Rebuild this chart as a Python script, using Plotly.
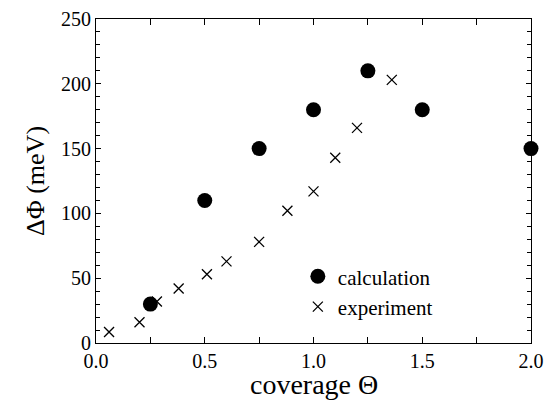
import plotly.graph_objects as go

calc_theta = [0.25, 0.5, 0.75, 1.0, 1.25, 1.5, 2.0]
calc_dphi = [30, 110, 150, 180, 210, 180, 150]

exp_theta = [0.06, 0.20, 0.28, 0.38, 0.51, 0.60, 0.75, 0.88, 1.00, 1.10, 1.20, 1.36]
exp_dphi = [8.5, 16, 32, 42, 53, 63, 78, 102, 117, 143, 166, 203]

FONT = "Liberation Serif"

fig = go.Figure()
fig.add_trace(go.Scatter(
    x=calc_theta, y=calc_dphi, mode="markers", name="calculation",
    marker=dict(symbol="circle", size=15, color="black"),
    cliponaxis=False,
))
fig.add_trace(go.Scatter(
    x=exp_theta, y=exp_dphi, mode="markers", name="experiment",
    marker=dict(symbol="x-thin", size=10, color="black",
                line=dict(width=1.3, color="black")),
    cliponaxis=False,
))

fig.update_layout(
    width=545, height=401,
    margin=dict(l=96, r=14, t=19, b=58),
    paper_bgcolor="white", plot_bgcolor="white",
    font=dict(family=FONT, color="black", size=20),
    showlegend=True,
    legend=dict(x=0.464, y=0.268, xanchor="left", yanchor="top",
                bgcolor="rgba(0,0,0,0)", font=dict(size=21, family=FONT, color="black"),
                itemwidth=30, tracegroupgap=0),
    annotations=[dict(
        text="coverage Θ", xref="paper", yref="paper", x=0.5, y=0,
        xanchor="center", yanchor="top", yshift=-24, showarrow=False,
        font=dict(size=28, family=FONT, color="black"),
    )],
)
fig.update_xaxes(
    range=[0, 2.0], dtick=0.5, tick0=0, tickformat=".1f",
    ticks="inside", ticklen=6, tickcolor="black", tickwidth=1,
    minor=dict(dtick=0.25, ticks="inside", ticklen=6, tickcolor="black"),
    showline=True, linecolor="black", linewidth=1, mirror="ticks",
    showgrid=False, zeroline=False, automargin=False,
    tickfont=dict(size=20, family=FONT, color="black"),
)
fig.update_yaxes(
    range=[0, 250], dtick=50, tick0=0,
    ticks="inside", ticklen=5, tickcolor="black", tickwidth=1,
    minor=dict(dtick=10, ticks="inside", ticklen=4, tickcolor="black"),
    showline=True, linecolor="black", linewidth=1, mirror="ticks",
    showgrid=False, zeroline=False, automargin=False,
    tickfont=dict(size=20, family=FONT, color="black"),
    title=dict(text="ΔΦ (meV)", font=dict(size=26, family=FONT, color="black"), standoff=8),
)

fig.write_html("out.html")
